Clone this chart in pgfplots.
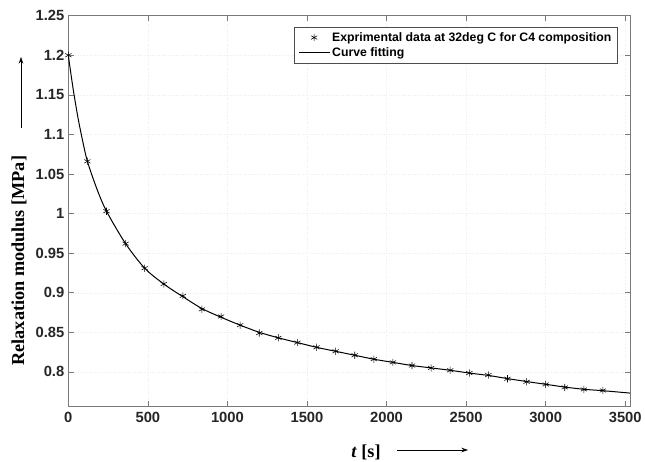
\documentclass[border=0pt]{standalone}
\usepackage{fontspec}
\setmainfont{Liberation Serif}
\setsansfont{Liberation Sans}
\usepackage{pgfplots}
\pgfplotsset{compat=1.18}
\usetikzlibrary{arrows.meta}
\definecolor{tickgray}{HTML}{262626}
\definecolor{axgray}{HTML}{7A7A7A}
\begin{document}
\begin{tikzpicture}[x=1bp,y=1bp]
\path[use as bounding box] (-68.3,-55.3) rectangle (576.7,406.7);
\begin{axis}[
  at={(0,0)}, anchor=south west,
  scale only axis, width=561.7bp, height=391bp,
  xmin=0, xmax=3530, ymin=0.756, ymax=1.25,
  xtick={0,500,...,3500},
  ytick={0.8,0.85,0.9,0.95,1,1.05,1.1,1.15,1.2,1.25},
  yticklabels={0.8,0.85,0.9,0.95,1,1.05,1.1,1.15,1.2,1.25},
  /pgf/number format/assume math mode=true,
  /pgf/number format/1000 sep={},
  tick align=inside, tick pos=both,
  major tick length=5.5bp,
  axis line style={axgray, line width=0.6pt},
  every tick/.style={axgray, line width=0.6pt},
  ticklabel style={font=\sffamily\bfseries\fontsize{14.8}{17}\selectfont, text=tickgray},
  xticklabel style={yshift=-2bp},
  yticklabel style={xshift=-0.5bp},
  grid=major,
  major grid style={dotted, black!7, line width=0.4pt},
  legend style={at={(0.977,0.972)}, anchor=north east, draw=black!70, line width=0.5pt,
    fill=white, font=\sffamily\bfseries\fontsize{12.3}{14}\selectfont, inner sep=3.5bp,
    row sep=0.5bp, cells={anchor=west}},
  legend image code/.code={\draw[mark repeat=2,mark phase=2,#1] plot coordinates {(0bp,0bp) (15.5bp,0bp) (31bp,0bp)};},
  clip=true,
]
\addplot[only marks, mark=asterisk, mark size=3.6bp, black, mark options={line width=0.55pt}] coordinates {
(0,1.200) (120,1.066) (240,1.003) (360,0.962) (480,0.931) (600,0.911) (720,0.896) (840,0.879)
(960,0.870) (1080,0.859) (1200,0.849) (1320,0.843) (1440,0.837) (1560,0.831) (1680,0.826)
(1800,0.821) (1920,0.816) (2040,0.812) (2160,0.808) (2280,0.805) (2400,0.802) (2520,0.7985)
(2640,0.796) (2760,0.7913) (2880,0.7875) (3000,0.7841) (3120,0.7803) (3240,0.7778) (3360,0.7765)
};
\addlegendentry{Exprimental data at 32deg C for C4 composition}
\addplot[black, line width=1pt, smooth, tension=0.5] coordinates {
(0,1.200) (30,1.158) (60,1.122) (90,1.092) (120,1.066) (180,1.031) (240,1.003) (360,0.962) (480,0.931) (600,0.911) (720,0.895) (840,0.880)
(960,0.869) (1080,0.859) (1200,0.850) (1320,0.843) (1440,0.837) (1560,0.831) (1680,0.826)
(1800,0.821) (1920,0.816) (2040,0.812) (2160,0.808) (2280,0.805) (2400,0.802) (2520,0.7985)
(2640,0.7955) (2760,0.7915) (2880,0.7878) (3000,0.7843) (3120,0.7808) (3240,0.7780) (3360,0.7762) (3530,0.7732)
};
\addlegendentry{Curve fitting}
\end{axis}
\node[rotate=90, font=\bfseries\fontsize{18.3}{21}\selectfont] at (-49.3,146) {Relaxation modulus [MPa]};
\draw[-{Stealth[length=6.5bp,width=4.5bp]}, line width=0.55pt] (-47.3,278.7) -- (-47.3,349.7);
\node[font=\bfseries\fontsize{18.3}{21}\selectfont] at (297.7,-45.3) {\textit{t} [s]};
\draw[-{Stealth[length=6.5bp,width=4.5bp]}, line width=0.55pt] (328.7,-43.3) -- (399.7,-43.3);
\end{tikzpicture}
\end{document}
